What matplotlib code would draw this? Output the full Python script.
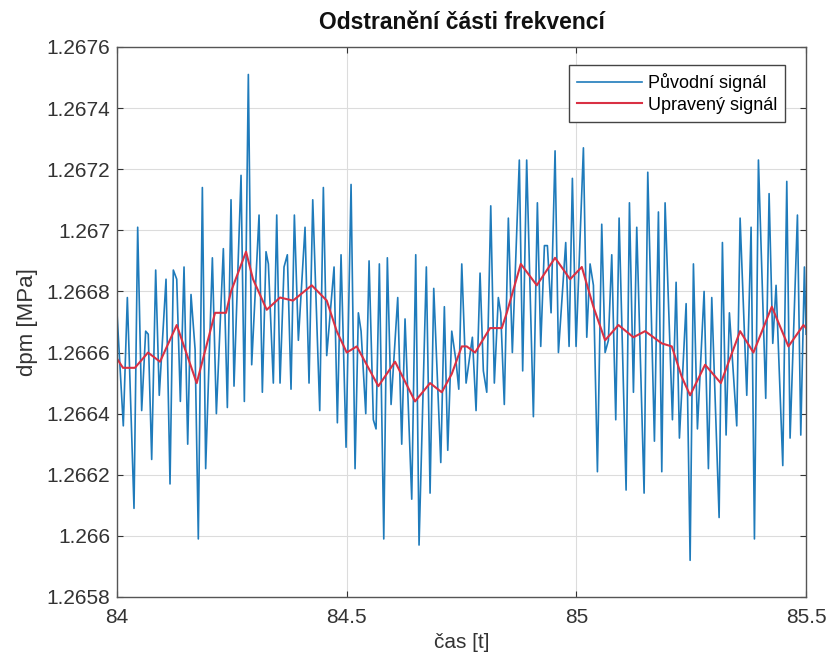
import matplotlib
matplotlib.use("Agg")
import matplotlib.pyplot as plt

# =========================
# DATA
# =========================
t_orig = [
    84.0, 84.0137, 84.0225, 84.037, 84.045, 84.0537, 84.0624, 84.068, 84.0755, 84.0842,
    84.092, 84.1067, 84.1154, 84.1226, 84.13, 84.1379, 84.1459, 84.1539, 84.1611, 84.17,
    84.177, 84.1858, 84.193, 84.2076, 84.2163, 84.2315, 84.2402, 84.2482,
    84.2547, 84.27, 84.2772, 84.2859, 84.2932, 84.3092, 84.3164, 84.3244, 84.3295, 84.3403,
    84.3477, 84.3549, 84.3636, 84.3708, 84.3788, 84.3861, 84.3948, 84.4093, 84.418, 84.4261,
    84.4413, 84.4492, 84.4565, 84.4725, 84.4797, 84.4877, 84.4986,
    84.5095, 84.5182, 84.5254, 84.5313, 84.5415, 84.5487, 84.558, 84.5639, 84.5711, 84.5807,
    84.5885, 84.5966, 84.6111, 84.6198, 84.627, 84.6416, 84.6503, 84.6575, 84.6734, 84.6815,
    84.6895, 84.7048, 84.7126, 84.72, 84.7287, 84.7381, 84.744, 84.7505,
    84.7599, 84.7736, 84.7816, 84.7903, 84.7975, 84.8049, 84.8136, 84.8214, 84.8301, 84.8353,
    84.8431, 84.8519, 84.8606, 84.8758, 84.8831, 84.8918, 84.9064, 84.9151, 84.9224, 84.9304,
    84.9369, 84.9449, 84.9536, 84.9609, 84.9768, 84.9841, 84.9913, 84.9993,
    85.0153, 85.0226, 85.0298, 85.0371, 85.0458, 85.0552, 85.0625, 85.0697, 85.077, 85.0857,
    85.093, 85.1082, 85.1155, 85.1242, 85.1314, 85.1474, 85.1554, 85.1699, 85.1786, 85.1859,
    85.1931, 85.2091, 85.2171, 85.2243, 85.2389, 85.2476, 85.2548,
    85.2635, 85.278, 85.2874, 85.2947, 85.3107, 85.3179, 85.3259, 85.3331, 85.3491, 85.3564,
    85.3709, 85.3803, 85.3876, 85.3963, 85.4122, 85.4195, 85.4275, 85.4347, 85.4493, 85.458,
    85.4652, 85.4812, 85.4885, 85.4964, 85.5,
]
p_orig = [
    1.26673, 1.26636, 1.26678, 1.26609, 1.26701, 1.26641, 1.26667, 1.26666, 1.26625, 1.26687,
    1.26646, 1.26684, 1.26617, 1.26687, 1.26684, 1.26644, 1.26688, 1.26630, 1.26679, 1.26661,
    1.26599, 1.26714, 1.26622, 1.26691, 1.26640, 1.26694, 1.26642, 1.26710,
    1.26649, 1.26718, 1.26644, 1.26751, 1.26656, 1.26705, 1.26647, 1.26693, 1.26689, 1.26650,
    1.26705, 1.26650, 1.26688, 1.26692, 1.26648, 1.26705, 1.26664, 1.26701, 1.26650, 1.26710,
    1.26641, 1.26714, 1.26659, 1.26688, 1.26637, 1.26692, 1.26629,
    1.26715, 1.26622, 1.26673, 1.26667, 1.26640, 1.26690, 1.26638, 1.26635, 1.26689, 1.26599,
    1.26691, 1.26643, 1.26678, 1.26630, 1.26671, 1.26612, 1.26692, 1.26597, 1.26688, 1.26614,
    1.26681, 1.26624, 1.26675, 1.26628, 1.26667, 1.26657, 1.26648, 1.26689,
    1.26650, 1.26665, 1.26641, 1.26686, 1.26654, 1.26647, 1.26708, 1.26650, 1.26678, 1.26673,
    1.26643, 1.26704, 1.26660, 1.26723, 1.26654, 1.26723, 1.26639, 1.26709, 1.26662, 1.26695,
    1.26695, 1.26673, 1.26726, 1.26660, 1.26696, 1.26662, 1.26717, 1.26662,
    1.26727, 1.26665, 1.26689, 1.26682, 1.26621, 1.26702, 1.26660, 1.26664, 1.26692, 1.26638,
    1.26704, 1.26615, 1.26709, 1.26647, 1.26701, 1.26614, 1.26719, 1.26631, 1.26706, 1.26621,
    1.26709, 1.26638, 1.26683, 1.26632, 1.26676, 1.26592, 1.26689,
    1.26635, 1.26680, 1.26622, 1.26678, 1.26606, 1.26696, 1.26633, 1.26673, 1.26636, 1.26704,
    1.26646, 1.26701, 1.26599, 1.26723, 1.26645, 1.26712, 1.26663, 1.26682, 1.26623, 1.26716,
    1.26632, 1.26705, 1.26633, 1.26688, 1.26666,
]

t_filt = [
    84.0, 84.013, 84.039, 84.0675, 84.0936, 84.13, 84.1735, 84.2134, 84.2373, 84.2482,
    84.2809, 84.2961, 84.3259, 84.3549, 84.3832, 84.4239, 84.4566, 84.4783, 84.5001, 84.5219,
    84.54, 84.5689, 84.6053, 84.6488, 84.6815, 84.7069, 84.7287, 84.7505, 84.7614, 84.7795,
    84.8121, 84.8376, 84.8485, 84.879, 84.9138, 84.9536, 84.9863, 85.0118, 85.037, 85.0625,
    85.0915, 85.1241, 85.1496, 85.1859, 85.2077, 85.2295, 85.2476, 85.2802, 85.3144, 85.3564,
    85.3854, 85.4254, 85.4616, 85.4943, 85.5,
]
p_filt = [
    1.26658, 1.26655, 1.26655, 1.26660, 1.26657, 1.26669, 1.26650, 1.26673, 1.26673, 1.26680,
    1.26693, 1.26684, 1.26674, 1.26678, 1.26677, 1.26682, 1.26677, 1.26667, 1.26660, 1.26662,
    1.26657, 1.26649, 1.26657, 1.26644, 1.26650, 1.26647, 1.26653, 1.26662, 1.26662, 1.26660,
    1.26668, 1.26668, 1.26673, 1.26689, 1.26682, 1.26691, 1.26684, 1.26688, 1.26675, 1.26664,
    1.26669, 1.26665, 1.26667, 1.26663, 1.26662, 1.26652, 1.26646, 1.26656, 1.26650, 1.26667,
    1.26660, 1.26675, 1.26662, 1.26669, 1.26668,
]

x_ticks = [84, 84.5, 85, 85.5]
x_labels = ["84", "84.5", "85", "85.5"]
y_ticks = [1.2658, 1.2660, 1.2662, 1.2664, 1.2666, 1.2668, 1.2670, 1.2672, 1.2674, 1.2676]
y_labels = ["1.2658", "1.266", "1.2662", "1.2664", "1.2666", "1.2668", "1.267",
            "1.2672", "1.2674", "1.2676"]

# =========================
# FIGURE
# =========================
plt.rcParams["font.family"] = ["Liberation Sans", "DejaVu Sans"]

fig = plt.figure(figsize=(8.31, 6.6), dpi=100)
ax = fig.add_axes([0.1408, 0.0955, 0.8292, 0.8333])

ax.plot(t_orig, p_orig, color="#1f7bbb", linewidth=1.2, label="Původní signál")
ax.plot(t_filt, p_filt, color="#d93144", linewidth=1.5, label="Upravený signál")

ax.set_xlim(84, 85.5)
ax.set_ylim(1.2658, 1.2676)
ax.set_xticks(x_ticks)
ax.set_xticklabels(x_labels)
ax.set_yticks(y_ticks)
ax.set_yticklabels(y_labels)

ax.grid(True, color="#dcdcdc", linewidth=0.8)
ax.set_axisbelow(True)

ax.tick_params(direction="in", top=True, right=True, length=4,
               labelsize=15, colors="#333333", pad=5)
ax.tick_params(axis="x", pad=8)
for spine in ax.spines.values():
    spine.set_color("#555555")
    spine.set_linewidth(1.0)

ax.set_xlabel("čas [t]", fontsize=15, color="#333333", labelpad=4)
ax.set_ylabel("dpm [MPa]", fontsize=16, color="#333333", labelpad=6)
ax.set_title("Odstranění části frekvencí", fontsize=16.5, fontweight="bold",
             color="#111111", pad=13)

leg = ax.legend(loc="upper right", bbox_to_anchor=(0.9695, 0.967),
                fontsize=13, handlelength=3.6, fancybox=False, framealpha=1,
                edgecolor="#444444", borderpad=0.45, labelspacing=0.25,
                handletextpad=0.3, borderaxespad=0)
leg.get_frame().set_linewidth(1.0)

fig.savefig("out.png", dpi=100)
